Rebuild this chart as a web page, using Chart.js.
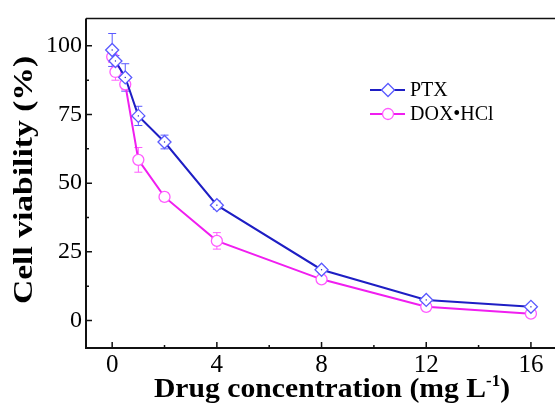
<!DOCTYPE html>
<html>
<head>
<meta charset="utf-8">
<script src="https://cdn.jsdelivr.net/npm/chart.js@4.4.1/dist/chart.umd.min.js"></script>
<style>
    html, body { margin: 0; padding: 0; background: #fff; overflow: hidden; }
    #wrap { width: 555px; height: 412px; }
</style>
</head>
<body>
<div id="wrap"><canvas id="chart" width="555" height="412"></canvas></div>
<script>
const concentration = [0, 0.125, 0.5, 1, 2, 4, 8, 12, 16];

const ptxViability = [98.5, 94.5, 88.5, 74.5, 65, 42, 18.5, 7.5, 5];
const ptxError = [6, 2, 5, 3.5, 2.5, 1.5, 1, 1, 1];

const doxViability = [96, 90.5, 86, 58.5, 45, 29, 15, 5, 2.5];
const doxError = [2, 3, 2, 4.5, 1.5, 3, 1, 1.5, 1];

const xTicks = [0, 4, 8, 12, 16];
const xMinorTicks = [2, 6, 10, 14];
const yTicks = [0, 25, 50, 75, 100];
const yMinorTicks = [12.5, 37.5, 62.5, 87.5];

const ptxColor = "#1e1ec4";
const ptxLight = "#5a5aff";
const doxColor = "#f01ef0";
const doxLight = "#ff5cff";

const serif = "'Liberation Serif', 'Times New Roman', serif";

const errors = [ptxError, doxError];
const errColors = [ptxLight, doxLight];

// let the plot run to the right edge of the canvas (the frame is cut there)
const stretchRight = {
    id: "stretchRight",
    afterLayout(chart) {
        const s = chart.scales.x;
        const extra = chart.width - s.right;
        if (extra <= 0) return;
        s.right += extra;
        s.width += extra;
        chart.chartArea.right = s.right;
        chart.chartArea.width = s.right - chart.chartArea.left;
        s.configure();
    }
};

// error bars under the markers
const errorBars = {
    id: "errorBars",
    beforeDatasetsDraw(chart) {
        const ctx = chart.ctx;
        const x = chart.scales.x, y = chart.scales.y;
        ctx.save();
        ctx.lineWidth = 1;
        chart.data.datasets.forEach((ds, i) => {
            ctx.strokeStyle = errColors[i];
            ds.data.forEach((p, j) => {
                const px = x.getPixelForValue(p.x);
                const top = y.getPixelForValue(p.y + errors[i][j]);
                const bot = y.getPixelForValue(p.y - errors[i][j]);
                ctx.beginPath();
                ctx.moveTo(px, top); ctx.lineTo(px, bot);
                ctx.moveTo(px - 4, top); ctx.lineTo(px + 4, top);
                ctx.moveTo(px - 4, bot); ctx.lineTo(px + 4, bot);
                ctx.stroke();
            });
        });
        ctx.restore();
    },
    afterDatasetsDraw(chart) {
        // tiny centre dot inside the diamonds
        const ctx = chart.ctx;
        ctx.save();
        ctx.fillStyle = ptxColor;
        chart.getDatasetMeta(0).data.forEach(pt => {
            ctx.fillRect(pt.x - 0.6, pt.y - 0.6, 1.2, 1.2);
        });
        ctx.restore();
    }
};

// axes frame, inward ticks, titles and legend
const frame = {
    id: "frame",
    afterDraw(chart) {
        const ctx = chart.ctx;
        const a = chart.chartArea;
        const x = chart.scales.x, y = chart.scales.y;
        ctx.save();
        ctx.strokeStyle = "#111";
        ctx.lineWidth = 2;
        ctx.beginPath();
        ctx.moveTo(a.left, a.top); ctx.lineTo(a.left, a.bottom); ctx.lineTo(chart.width, a.bottom);
        ctx.stroke();
        ctx.lineWidth = 1.5;
        ctx.beginPath();
        ctx.moveTo(a.left, a.top); ctx.lineTo(chart.width, a.top);
        ctx.stroke();

        ctx.lineWidth = 1.5;
        ctx.beginPath();
        xTicks.forEach(v => { const p = x.getPixelForValue(v); ctx.moveTo(p, a.bottom); ctx.lineTo(p, a.bottom - 6); });
        xMinorTicks.forEach(v => { const p = x.getPixelForValue(v); ctx.moveTo(p, a.bottom); ctx.lineTo(p, a.bottom - 3); });
        yTicks.forEach(v => { const p = y.getPixelForValue(v); ctx.moveTo(a.left, p); ctx.lineTo(a.left + 6, p); });
        yMinorTicks.forEach(v => { const p = y.getPixelForValue(v); ctx.moveTo(a.left, p); ctx.lineTo(a.left + 3, p); });
        ctx.stroke();

        // y title, stretched along its length
        ctx.fillStyle = "#000";
        ctx.font = "bold 28px " + serif;
        ctx.textAlign = "center";
        ctx.textBaseline = "alphabetic";
        ctx.save();
        ctx.translate(32, 180);
        ctx.rotate(-Math.PI / 2);
        ctx.scale(1.2, 1);
        ctx.fillText("Cell viability (%)", 0, 0);
        ctx.restore();

        // x title with superscript
        const main = "Drug concentration (mg L";
        const sup = "-1";
        const close = ")";
        ctx.save();
        ctx.translate(332, 397);
        ctx.scale(1.06, 1);
        ctx.textAlign = "left";
        ctx.font = "bold 28px " + serif;
        const w1 = ctx.measureText(main).width;
        const w3 = ctx.measureText(close).width;
        ctx.font = "bold 16px " + serif;
        const w2 = ctx.measureText(sup).width;
        const sx = -(w1 + w2 + w3) / 2;
        ctx.font = "bold 28px " + serif;
        ctx.fillText(main, sx, 0);
        ctx.font = "bold 16px " + serif;
        ctx.fillText(sup, sx + w1, -11);
        ctx.font = "bold 28px " + serif;
        ctx.fillText(close, sx + w1 + w2, 0);
        ctx.restore();

        // legend
        const rows = [
            { label: "PTX", color: ptxColor, light: ptxLight, style: "rectRot", r: 6.5, y: 90 },
            { label: "DOX\u2022HCl", color: doxColor, light: doxLight, style: "circle", r: 5.5, y: 114 }
        ];
        rows.forEach(r => {
            ctx.strokeStyle = r.color;
            ctx.lineWidth = 2;
            ctx.beginPath();
            ctx.moveTo(370, r.y); ctx.lineTo(405, r.y);
            ctx.stroke();
            ctx.fillStyle = "#fff";
            ctx.strokeStyle = r.light;
            ctx.lineWidth = 1.3;
            Chart.helpers.drawPoint(ctx, { pointStyle: r.style, radius: r.r, borderWidth: 1.3 }, 388, r.y);
            ctx.fillStyle = "#000";
            ctx.font = "20px " + serif;
            ctx.textAlign = "left";
            ctx.textBaseline = "middle";
            ctx.fillText(r.label, 410, r.y + 1);
        });
        ctx.restore();
    }
};

new Chart(document.getElementById("chart"), {
    type: "line",
    plugins: [stretchRight, errorBars, frame],
    data: {
        datasets: [
            {
                label: "PTX",
                data: concentration.map((c, i) => ({ x: c, y: ptxViability[i] })),
                borderColor: ptxColor,
                borderWidth: 2,
                pointStyle: "rectRot",
                pointRadius: 6.5,
                pointBorderWidth: 1.3,
                pointBorderColor: ptxLight,
                pointBackgroundColor: "#fff",
                tension: 0,
            },
            {
                label: "DOX\u2022HCl",
                data: concentration.map((c, i) => ({ x: c, y: doxViability[i] })),
                borderColor: doxColor,
                borderWidth: 2,
                pointStyle: "circle",
                pointRadius: 5.5,
                pointBorderWidth: 1.3,
                pointBorderColor: doxLight,
                pointBackgroundColor: "#fff",
                tension: 0,
            },
        ],
    },
    options: {
        responsive: false,
        animation: false,
        layout: { padding: { top: 9, right: 0, left: 0, bottom: 0 } },
        plugins: {
            legend: { display: false },
            tooltip: { enabled: false },
        },
        scales: {
            x: {
                type: "linear",
                min: -1,
                max: 16.92,
                afterBuildTicks: s => { s.ticks = xTicks.map(v => ({ value: v })); },
                afterFit: s => { s.height = 64; },
                grid: { display: false, drawTicks: false },
                border: { display: false },
                ticks: {
                    padding: 2,
                    maxRotation: 0,
                    color: "#000",
                    font: { family: serif, size: 25 },
                },
            },
            y: {
                min: -10,
                max: 110,
                afterBuildTicks: s => { s.ticks = yTicks.map(v => ({ value: v })); },
                afterFit: s => { s.width = 86; },
                grid: { display: false, drawTicks: false },
                border: { display: false },
                ticks: {
                    padding: 4,
                    color: "#000",
                    font: { family: serif, size: 24 },
                },
            },
        },
    },
});
</script>
</body>
</html>
